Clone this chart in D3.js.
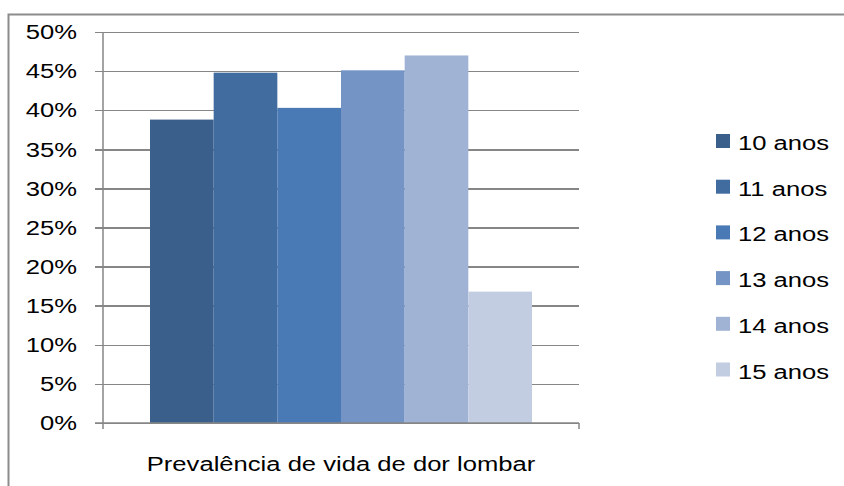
<!DOCTYPE html>
<html>
<head>
  <meta charset="utf-8">
  <script src="https://d3js.org/d3.v7.min.js"></script>
  <style>
    body { margin: 0; background: #fff; }
    text { font-family: "Liberation Sans", Arial, sans-serif; fill: #000; }
    .axis path, .axis line { stroke: #868686; stroke-width: 1.5px; shape-rendering: crispEdges; }
  </style>
</head>
<body>
<div id="chart"></div>
<script>
  // data
  const category = "Prevalência de vida de dor lombar";
  const series = ["10 anos", "11 anos", "12 anos", "13 anos", "14 anos", "15 anos"];
  const values = [0.388, 0.448, 0.403, 0.451, 0.470, 0.168];
  const colors = ["#3A5F8B", "#416CA0", "#4A7AB5", "#7394C5", "#A1B3D5", "#C2CDE2"];
  const yTicks = [0, 0.05, 0.1, 0.15, 0.2, 0.25, 0.3, 0.35, 0.4, 0.45, 0.5];

  const W = 844, H = 486;
  const margin = { top: 32, left: 103, right: 265, bottom: 63 };
  const width = W - margin.left - margin.right;
  const height = H - margin.top - margin.bottom;
  const stretch = 1.22; // source text is drawn wider than its height

  const svg = d3.select("#chart").append("svg")
    .attr("width", W).attr("height", H);

  // outer frame (cut off at right / bottom like the source)
  svg.append("rect")
    .attr("x", 8.5).attr("y", 14.5)
    .attr("width", 850).attr("height", 500)
    .attr("fill", "none")
    .attr("stroke", "#8c8c8c")
    .attr("stroke-width", 2);

  const g = svg.append("g")
    .attr("transform", `translate(${margin.left},${margin.top})`);

  const x0 = d3.scaleBand().domain([category]).range([0, width]);
  const x1 = d3.scaleBand().domain(series)
    .range([47, width - 47]);
  const y = d3.scaleLinear().domain([0, 0.5]).range([height, 0]);

  // gridlines + y axis
  const yAxis = g.append("g").attr("class", "axis")
    .call(d3.axisLeft(y).tickValues(yTicks).tickSize(-width)
      .tickFormat(d3.format(".0%")));
  yAxis.select(".domain").remove();
  yAxis.selectAll(".tick line").attr("x1", -8);
  yAxis.selectAll(".tick text")
    .style("font-size", "21px")
    .attr("x", -26 / stretch)
    .attr("transform", `scale(${stretch},1)`);

  // bars
  g.selectAll("rect.bar")
    .data(series)
    .join("rect")
    .attr("class", "bar")
    .attr("x", d => x0(category) + x1(d))
    .attr("width", x1.bandwidth())
    .attr("y", (d, i) => y(values[i]))
    .attr("height", (d, i) => height - y(values[i]))
    .attr("fill", (d, i) => colors[i]);

  // axis lines
  g.append("line")
    .attr("x1", 0).attr("x2", 0).attr("y1", 0).attr("y2", height + 6)
    .attr("stroke", "#868686").attr("stroke-width", 1.5);
  g.append("line")
    .attr("x1", -8).attr("x2", width).attr("y1", height).attr("y2", height)
    .attr("stroke", "#868686").attr("stroke-width", 1.5);
  g.append("line")
    .attr("x1", width).attr("x2", width).attr("y1", height).attr("y2", height + 6)
    .attr("stroke", "#868686").attr("stroke-width", 1.5);

  // category label
  g.append("text")
    .attr("transform", `translate(${x0(category) + x0.bandwidth() / 2},${height + 48}) scale(${stretch},1)`)
    .attr("text-anchor", "middle")
    .style("font-size", "21px")
    .text(category);

  // legend
  const legend = svg.append("g").attr("transform", "translate(716,134)");
  const item = legend.selectAll("g")
    .data(series)
    .join("g")
    .attr("transform", (d, i) => `translate(0,${i * 45.7})`);
  item.append("rect")
    .attr("width", 14).attr("height", 14)
    .attr("fill", (d, i) => colors[i]);
  item.append("text")
    .attr("transform", `translate(22,16) scale(${stretch},1)`)
    .style("font-size", "21px")
    .text(d => d);
</script>
</body>
</html>
